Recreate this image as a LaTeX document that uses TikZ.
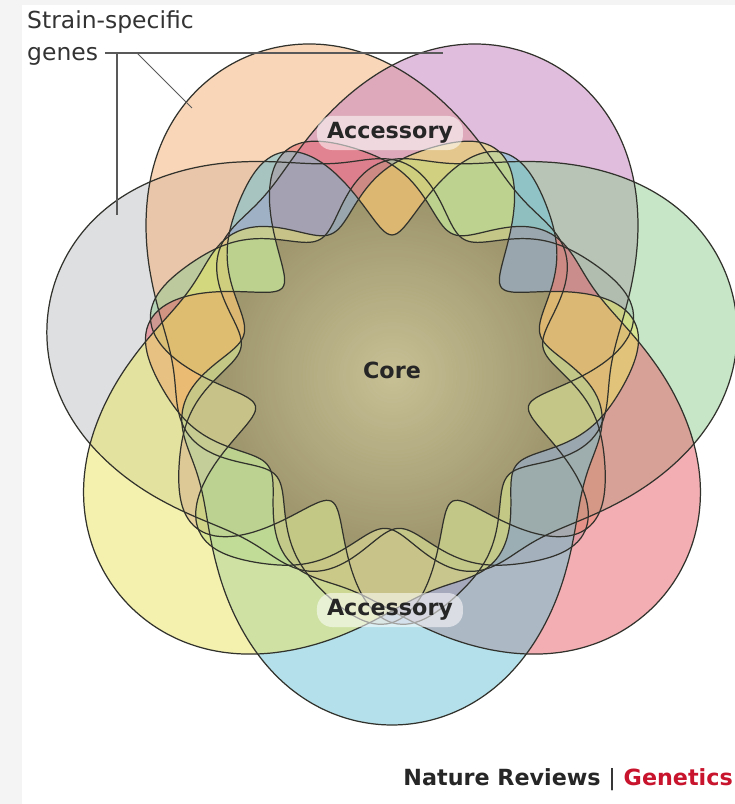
\documentclass[tikz,border=0pt]{standalone}
\usepackage{fontspec}
\setmainfont{DejaVu Sans}
\usetikzlibrary{positioning}
\definecolor{grayPetal}{RGB}{189,193,197}
\definecolor{orangePetal}{RGB}{245,175,115}
\definecolor{lilacPetal}{RGB}{197,125,189}
\definecolor{greenPetal}{RGB}{145,205,145}
\definecolor{redPetal}{RGB}{231,95,105}
\definecolor{cyanPetal}{RGB}{105,195,215}
\definecolor{yellowPetal}{RGB}{235,229,95}
\definecolor{coreLight}{RGB}{200,192,152}
\definecolor{coreDark}{RGB}{140,128,92}
\definecolor{lineColor}{RGB}{50,50,45}
\definecolor{frameGray}{RGB}{244,244,244}
\definecolor{natureRed}{RGB}{200,20,45}
\newcommand{\petalpath}{plot[smooth cycle, variable=\t, samples=180, domain=0:358]
  (\t:{petalr(\t)})}

\begin{document}
\begin{tikzpicture}[
  x=0.03cm, y=0.03cm,
  declare function={
    lobe(\t)=((1+cos(\t))/2)^5;
    tail(\t)=((1-cos(\t))/2)^1.2;
    petalr(\t)=175+175*lobe(\t)+35*((1-cos(\t))/2)^2+tail(\t)*(55*cos(5*\t)+15*cos(9*\t));
  },
  petal/.style={fill opacity=0.5},
  outline/.style={draw=lineColor, line width=1.05pt},
  leader/.style={draw=black!65, line width=0.9pt},
  tag/.style={font=\bfseries\fontsize{19}{21}\selectfont, text=black!85},
  tagbox/.style={tag, fill=white, fill opacity=0.55, text opacity=1,
    rounded corners=13pt, minimum width=146*0.03cm, minimum height=34*0.03cm, inner sep=0pt}
]
\fill[frameGray] (-392,-429) rectangle (343,375);
\fill[white] (-370,-429) rectangle (343,370);
\useasboundingbox (-392,-429) rectangle (343,375);

\fill[petal, grayPetal, rotate=167.14] \petalpath;
\fill[petal, orangePetal, rotate=115.71] \petalpath;
\fill[petal, lilacPetal, rotate=64.29] \petalpath;
\fill[petal, greenPetal, rotate=12.86] \petalpath;
\fill[petal, redPetal, rotate=321.43] \petalpath;
\fill[petal, cyanPetal, rotate=270] \petalpath;
\fill[petal, yellowPetal, rotate=218.57] \petalpath;

% core = all seven at once
\begin{scope}
  \clip[rotate=167.14] \petalpath;
  \clip[rotate=115.71] \petalpath;
  \clip[rotate=64.29] \petalpath;
  \clip[rotate=12.86] \petalpath;
  \clip[rotate=321.43] \petalpath;
  \clip[rotate=270] \petalpath;
  \clip[rotate=218.57] \petalpath;
  \shade[inner color=coreLight, outer color=coreDark, opacity=0.85] (0,0) circle (220);
\end{scope}

\draw[outline, rotate=167.14] \petalpath;
\draw[outline, rotate=115.71] \petalpath;
\draw[outline, rotate=64.29] \petalpath;
\draw[outline, rotate=12.86] \petalpath;
\draw[outline, rotate=321.43] \petalpath;
\draw[outline, rotate=270] \petalpath;
\draw[outline, rotate=218.57] \petalpath;

\node[tag] (core) at (0,5) {Core};
\node[tagbox] (accTop) at (-2,242) {Accessory};
\node[tagbox] (accBottom) at (-2,-235) {Accessory};

\node[font=\fontsize{20}{22}\selectfont, text=black!80, anchor=base west, inner sep=0pt] (strain) at (-365,346) {Strain-specific};
\node[font=\fontsize{20}{22}\selectfont, text=black!80, anchor=base west, inner sep=0pt] (genes) at (-365,314) {genes};
\coordinate (barLeft) at (-287,322);
\coordinate (barRight) at (51,322);
\coordinate (dropTop) at (-275,322);
\coordinate (dropEnd) at (-275,160);
\coordinate (slantTop) at (-255,322);
\coordinate (slantEnd) at (-200,267);
\draw[leader] (barLeft) -- (barRight);
\draw[leader] (dropTop) -- (dropEnd);
\draw[leader] (slantTop) -- (slantEnd);

\node[font=\bfseries\fontsize{19}{21}\selectfont, anchor=base east, text=black!85, inner sep=0pt] (journal) at (341,-410)
  {Nature Reviews {\mdseries|} \textcolor{natureRed}{Genetics}};
\end{tikzpicture}
\end{document}
